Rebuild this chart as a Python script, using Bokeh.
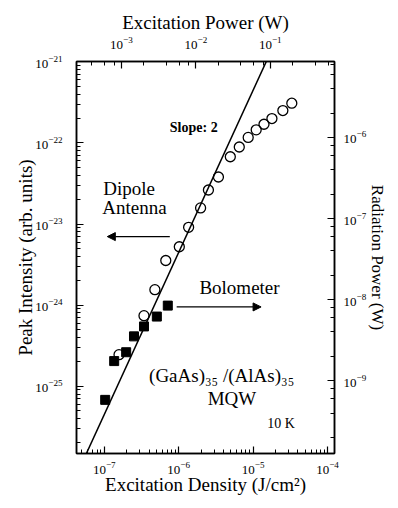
import numpy as np
from bokeh.plotting import figure
from bokeh.models import LogAxis, Range1d, LogScale, Arrow, NormalHead, Label
from bokeh.embed import file_html
from bokeh.resources import INLINE

# ---- data ----
antenna_density = [1.58e-7, 3.42e-7, 4.79e-7, 6.71e-7, 1.02e-6, 1.36e-6, 1.97e-6, 2.51e-6,
                   3.42e-6, 4.94e-6, 6.52e-6, 8.59e-6, 1.10e-5, 1.40e-5, 1.79e-5, 2.51e-5, 3.31e-5]
antenna_intensity = [2.45e-25, 7.41e-25, 1.55e-24, 3.55e-24, 5.25e-24, 9.12e-24, 1.58e-23, 2.63e-23,
                     3.80e-23, 6.76e-23, 8.91e-23, 1.17e-22, 1.45e-22, 1.70e-22, 2.00e-22, 2.51e-22, 3.09e-22]
bolometer_density = [1.03e-7, 1.36e-7, 1.97e-7, 2.51e-7, 3.42e-7, 5.09e-7, 7.14e-7]
bolometer_power = [5.82e-10, 1.75e-9, 2.25e-9, 3.53e-9, 4.68e-9, 6.19e-9, 8.45e-9]
fit_slope = 2.0
fit_log_coeff = -11.35

density_range = (4.24e-8, 1.24e-4)
intensity_range = (1.48e-26, 1.01e-21)
power_range = (2.49e-4, 0.73)
radiation_range = (1.27e-10, 8.63e-6)

FONT = "Liberation Serif"

p = figure(width=390, height=500, x_axis_type="log", y_axis_type="log",
           x_range=Range1d(*density_range), y_range=Range1d(*intensity_range),
           output_backend="svg", toolbar_location=None,
           min_border_left=76, min_border_right=54, min_border_top=61, min_border_bottom=47,
           x_axis_label="Excitation Density (J/cm²)", y_axis_label="Peak Intensity (arb. units)")
p.xgrid.visible = False
p.ygrid.visible = False
p.outline_line_color = "black"
p.outline_line_width = 1.5
p.background_fill_color = "white"
p.border_fill_color = "white"

p.extra_x_ranges = {"power": Range1d(*power_range)}
p.extra_x_scales = {"power": LogScale()}
p.extra_y_ranges = {"rad": Range1d(*radiation_range)}
p.extra_y_scales = {"rad": LogScale()}

bottom_axis = p.below[0]
left_axis = p.left[0]
top_axis = LogAxis(x_range_name="power", axis_label="Excitation Power (W)")
right_axis = LogAxis(y_range_name="rad", axis_label="Radiation Power (W)")
p.add_layout(top_axis, "above")
p.add_layout(right_axis, "right")


def style(ax):
    ax.major_tick_in = 7
    ax.major_tick_out = 0
    ax.minor_tick_in = 4
    ax.minor_tick_out = 0
    ax.axis_line_color = "black"
    ax.axis_line_width = 1.5
    ax.major_tick_line_width = 1.2
    ax.minor_tick_line_width = 1
    ax.major_label_text_font = FONT
    ax.major_label_text_font_size = "13px"
    ax.major_label_text_color = "black"
    ax.axis_label_text_font = FONT
    ax.axis_label_text_font_size = "19px"
    ax.axis_label_text_font_style = "normal"
    ax.axis_label_text_color = "black"


for ax in [bottom_axis, left_axis, top_axis, right_axis]:
    style(ax)

bottom_axis.major_label_standoff = 8
bottom_axis.axis_label_standoff = -3
left_axis.major_label_standoff = 14
left_axis.axis_label_standoff = -4
top_axis.major_label_standoff = 13
top_axis.axis_label_standoff = 1
right_axis.major_label_standoff = 9
right_axis.axis_label_standoff = -1
right_axis.axis_label_text_font_size = "17px"

# slope-2 fit line
fit_x = np.array(density_range)
fit_y = 10 ** fit_log_coeff * fit_x ** fit_slope
p.line(fit_x, fit_y, line_color="black", line_width=1.5)

p.scatter(antenna_density, antenna_intensity, marker="circle", size=10,
          fill_color=None, line_color="black", line_width=1.3)
p.scatter(bolometer_density, bolometer_power, marker="square", size=9,
          fill_color="black", line_color="black", y_range_name="rad")

p.add_layout(Arrow(end=NormalHead(size=8, fill_color="black", line_color="black"),
                   x_start=7.6e-7, y_start=7.0e-24, x_end=1.1e-7, y_end=7.0e-24,
                   line_width=1.2, line_color="black"))
p.add_layout(Arrow(end=NormalHead(size=8, fill_color="black", line_color="black"),
                   x_start=9.4e-7, y_start=9.5e-25, x_end=1.28e-5, y_end=9.5e-25,
                   line_width=1.2, line_color="black"))


def lab(x, y, text, size="19px", align="left", style="normal"):
    p.add_layout(Label(x=x, y=y, text=text, text_font=FONT, text_font_size=size,
                       text_align=align, text_baseline="middle", text_color="black",
                       text_font_style=style))


lab(7.6e-7, 1.56e-22, "Slope: 2", size="14px", style="bold")
lab(9.7e-8, 2.72e-23, "Dipole")
lab(9.4e-8, 1.59e-23, "Antenna")
lab(1.9e-6, 1.67e-24, "Bolometer")
lab(4.0e-7, 1.36e-25, "(GaAs)₃₅ /(AlAs)₃₅")
lab(5.2e-6, 7.1e-26, "MQW", align="center")
lab(1.55e-5, 3.5e-26, "10 K", size="14px")

open("out.html", "w").write(file_html(p, INLINE))
